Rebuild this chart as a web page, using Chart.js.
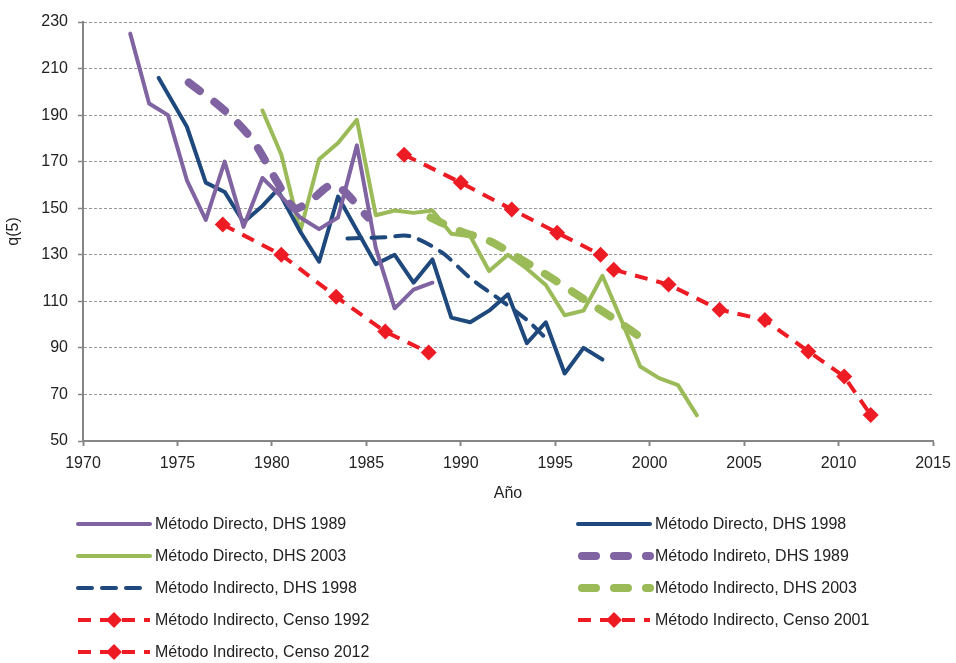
<!DOCTYPE html>
<html>
<head>
<meta charset="utf-8">
<script src="https://cdn.jsdelivr.net/npm/chart.js@4.4.1/dist/chart.umd.min.js"></script>
<style>
  html, body { margin: 0; padding: 0; background: #fff; }
  #wrap { width: 956px; height: 663px; }
</style>
</head>
<body>
<div id="wrap"><canvas id="chart" width="956" height="663"></canvas></div>
<script>
const xTicks = [1970, 1975, 1980, 1985, 1990, 1995, 2000, 2005, 2010, 2015];
const yTicks = [50, 70, 90, 110, 130, 150, 170, 190, 210, 230];

// Método Directo, DHS 1989
const dir1989Years = [1972.5, 1973.5, 1974.5, 1975.5, 1976.5, 1977.5, 1978.5, 1979.5, 1980.5, 1981.5, 1982.5, 1983.5, 1984.5, 1985.5, 1986.5, 1987.5, 1988.5];
const dir1989Values = [225, 195, 190, 162, 145, 170, 142, 163, 155, 146, 141, 146, 177, 133, 107, 115, 118];

// Método Directo, DHS 1998
const dir1998Years = [1974.0, 1975.5, 1976.5, 1977.5, 1978.5, 1979.5, 1980.3, 1981.5, 1982.5, 1983.5, 1985.5, 1986.5, 1987.5, 1988.5, 1989.5, 1990.5, 1991.5, 1992.5, 1993.5, 1994.5, 1995.5, 1996.5, 1997.5];
const dir1998Values = [206, 185, 161, 157, 144, 151, 158, 140, 127, 155, 126, 130, 118, 128, 103, 101, 106, 113, 92, 101, 79, 90, 85];

// Método Directo, DHS 2003
const dir2003Years = [1979.5, 1980.5, 1981.5, 1982.5, 1983.5, 1984.5, 1985.5, 1986.5, 1987.5, 1988.5, 1989.5, 1990.5, 1991.5, 1992.5, 1993.5, 1994.5, 1995.5, 1996.5, 1997.5, 1998.5, 1999.5, 2000.5, 2001.5, 2002.5];
const dir2003Values = [192, 173, 140, 171, 178, 188, 147, 149, 148, 149, 139, 138, 123, 130, 124, 117, 104, 106, 121, 102, 82, 77, 74, 61];

// Método Indireto, DHS 1989
const ind1989Years = [1975.6, 1977.5, 1979.0, 1980.3, 1981.2, 1982.0, 1983.3, 1985.1];
const ind1989Values = [204, 192, 179, 161, 150, 153, 160, 146];

// Método Indirecto, DHS 1998
const ind1998Years = [1984.0, 1986.0, 1987.3, 1989.0, 1990.5, 1992.2, 1993.5, 1994.4];
const ind1998Values = [137, 137.5, 138, 131, 120, 110, 102, 95];

// Método Indirecto, DHS 2003
const ind2003Years = [1988.4, 1990.0, 1991.5, 1993.0, 1995.0, 1996.5, 1998.2, 1999.8];
const ind2003Values = [146, 140, 136, 129, 119, 111, 102, 93];

// Método Indirecto, Censo 1992 / 2001 / 2012
const censo1992Years = [1977.4, 1980.5, 1983.4, 1986.0, 1988.3];
const censo1992Values = [143, 130, 112, 97, 88];
const censo2001Years = [1987.0, 1990.0, 1992.7, 1995.1, 1997.4];
const censo2001Values = [173, 161, 149.5, 139.5, 130];
const censo2012Years = [1998.1, 2001.0, 2003.7, 2006.1, 2008.4, 2010.3, 2011.7];
const censo2012Values = [123.6, 117.2, 106.4, 102, 88.5, 77.7, 61.2];

const purple = '#8064A2';
const navy = '#1F497D';
const green = '#9BBB59';
const red = '#ED1C24';

const toPoints = (xs, ys) => xs.map((x, i) => ({ x: x, y: ys[i] }));

const solid = (label, xs, ys, color) => ({
    label: label,
    data: toPoints(xs, ys),
    borderColor: color,
    backgroundColor: color,
    borderWidth: 4,
    pointRadius: 0,
    borderJoinStyle: 'round',
    borderCapStyle: 'round',
    order: 3
});

const thickDash = (label, xs, ys, color) => ({
    label: label,
    data: toPoints(xs, ys),
    borderColor: color,
    backgroundColor: color,
    borderWidth: 8,
    borderDash: [14, 18],
    borderCapStyle: 'round',
    borderJoinStyle: 'round',
    pointRadius: 0,
    tension: 0.3,
    order: 2
});

const censo = (label, xs, ys) => ({
    label: label,
    data: toPoints(xs, ys),
    borderColor: red,
    backgroundColor: red,
    borderWidth: 4,
    borderDash: [13, 9],
    pointStyle: 'rectRot',
    pointRadius: 8,
    pointBorderWidth: 0,
    order: 0
});

const datasets = [
    solid('Método Directo, DHS 1989', dir1989Years, dir1989Values, purple),
    solid('Método Directo, DHS 1998', dir1998Years, dir1998Values, navy),
    solid('Método Directo, DHS 2003', dir2003Years, dir2003Values, green),
    thickDash('Método Indireto, DHS 1989', ind1989Years, ind1989Values, purple),
    {
        label: 'Método Indirecto, DHS 1998',
        data: toPoints(ind1998Years, ind1998Values),
        borderColor: navy,
        backgroundColor: navy,
        borderWidth: 4,
        borderDash: [14, 10],
        borderCapStyle: 'round',
        pointRadius: 0,
        tension: 0.3,
        order: 1
    },
    thickDash('Método Indirecto, DHS 2003', ind2003Years, ind2003Values, green),
    censo('Método Indirecto, Censo 1992', censo1992Years, censo1992Values),
    censo('Método Indirecto, Censo 2001', censo2001Years, censo2001Values),
    censo('Método Indirecto, Censo 2012', censo2012Years, censo2012Values)
];

const fontFamily = '"Liberation Sans", Arial, sans-serif';

// legend drawn in two columns below the plot
const twoColumnLegend = {
    id: 'twoColumnLegend',
    afterDraw(chart) {
        const ctx = chart.ctx;
        const colX = [78, 578];
        const firstRow = 524;
        const rowGap = 32;
        chart.data.datasets.forEach((ds, i) => {
            const x = colX[i % 2];
            const y = firstRow + Math.floor(i / 2) * rowGap;
            ctx.save();
            ctx.strokeStyle = ds.borderColor;
            ctx.lineWidth = ds.borderWidth;
            ctx.lineCap = ds.borderCapStyle || 'butt';
            ctx.setLineDash(ds.borderDash || []);
            ctx.beginPath();
            ctx.moveTo(x + (ds.borderWidth > 4 ? 4 : 0), y);
            ctx.lineTo(x + 72, y);
            ctx.stroke();
            if (ds.pointRadius > 0) {
                ctx.setLineDash([]);
                ctx.fillStyle = ds.backgroundColor;
                const r = ds.pointRadius;
                ctx.beginPath();
                ctx.moveTo(x + 36, y - r);
                ctx.lineTo(x + 36 + r, y);
                ctx.lineTo(x + 36, y + r);
                ctx.lineTo(x + 36 - r, y);
                ctx.closePath();
                ctx.fill();
            }
            ctx.fillStyle = '#222';
            ctx.font = '16px ' + fontFamily;
            ctx.textBaseline = 'middle';
            ctx.textAlign = 'left';
            ctx.fillText(ds.label, x + 77, y + 1);
            ctx.restore();
        });
    }
};

new Chart(document.getElementById('chart'), {
    type: 'line',
    data: { datasets: datasets },
    options: {
        responsive: false,
        animation: false,
        layout: { padding: { top: 22, right: 23, bottom: 156, left: 0 } },
        plugins: {
            legend: { display: false },
            tooltip: { enabled: false }
        },
        scales: {
            x: {
                type: 'linear',
                min: 1970,
                max: 2015,
                afterBuildTicks: (scale) => { scale.ticks = xTicks.map((v) => ({ value: v })); },
                afterFit: (scale) => {
                    scale.height = 66;
                    scale.paddingLeft = 0;
                    scale.paddingRight = 0;
                },
                ticks: {
                    color: '#222',
                    font: { family: fontFamily, size: 16 },
                    padding: 8,
                    maxRotation: 0,
                    callback: (v) => String(v)
                },
                grid: {
                    drawOnChartArea: false,
                    tickLength: 5,
                    tickColor: '#868686',
                    tickWidth: 2
                },
                border: { color: '#868686', width: 2 },
                title: {
                    display: true,
                    text: 'Año',
                    color: '#222',
                    font: { family: fontFamily, size: 16 },
                    padding: { top: 4, bottom: 4 }
                }
            },
            y: {
                min: 50,
                max: 230,
                afterBuildTicks: (scale) => { scale.ticks = yTicks.map((v) => ({ value: v })); },
                afterFit: (scale) => { scale.width = 83; },
                ticks: {
                    color: '#222',
                    font: { family: fontFamily, size: 16 },
                    padding: 10
                },
                grid: {
                    color: '#999',
                    lineWidth: 1,
                    tickLength: 5,
                    tickColor: '#868686',
                    tickBorderDash: [],
                    tickWidth: 1.5
                },
                border: { color: '#868686', width: 2, dash: [3, 2] },
                title: {
                    display: true,
                    text: 'q(5)',
                    color: '#222',
                    font: { family: fontFamily, size: 16 },
                    padding: { bottom: 0 }
                }
            }
        }
    },
    plugins: [twoColumnLegend]
});
</script>
</body>
</html>
